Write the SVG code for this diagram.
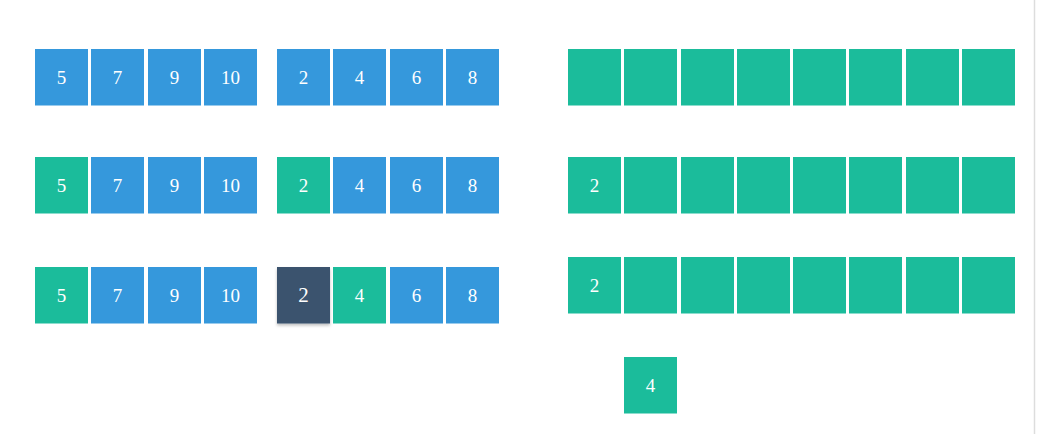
<svg xmlns="http://www.w3.org/2000/svg" width="1042" height="434" viewBox="0 0 1042 434">
<defs>
<style>
.b{fill:#3598dc}
.g{fill:#1bbc9b}
.d{fill:#3b526e}
text{font-family:"Liberation Serif","DejaVu Serif",serif;font-size:19px;fill:#fff;text-anchor:middle;dominant-baseline:central}
</style>
<filter id="sh" x="-20%" y="-20%" width="140%" height="140%"><feDropShadow dx="0" dy="2" stdDeviation="1.5" flood-color="#000" flood-opacity="0.25"/></filter>
</defs>
<rect width="1042" height="434" fill="#fff"/>
<line x1="1034.5" y1="0" x2="1034.5" y2="434" stroke="#dddddd" stroke-width="1.5"/>
<g id="row1">
<g id="r1a"><rect class="b" x="35" y="49" width="53" height="56.5"/><text x="61.5" y="77">5</text></g>
<g id="r1b"><rect class="b" x="91" y="49" width="53" height="56.5"/><text x="117.5" y="77">7</text></g>
<g id="r1c"><rect class="b" x="148" y="49" width="53" height="56.5"/><text x="174.5" y="77">9</text></g>
<g id="r1d"><rect class="b" x="204" y="49" width="53" height="56.5"/><text x="230.5" y="77">10</text></g>
<g id="r1e"><rect class="b" x="277" y="49" width="53" height="56.5"/><text x="303.5" y="77">2</text></g>
<g id="r1f"><rect class="b" x="333" y="49" width="53" height="56.5"/><text x="359.5" y="77">4</text></g>
<g id="r1g"><rect class="b" x="390" y="49" width="53" height="56.5"/><text x="416.5" y="77">6</text></g>
<g id="r1h"><rect class="b" x="446" y="49" width="53" height="56.5"/><text x="472.5" y="77">8</text></g>
<g id="r1out">
<rect class="g" x="568" y="49" width="53" height="56.5"/>
<rect class="g" x="624" y="49" width="53" height="56.5"/>
<rect class="g" x="681" y="49" width="53" height="56.5"/>
<rect class="g" x="737" y="49" width="53" height="56.5"/>
<rect class="g" x="793" y="49" width="53" height="56.5"/>
<rect class="g" x="849" y="49" width="53" height="56.5"/>
<rect class="g" x="906" y="49" width="53" height="56.5"/>
<rect class="g" x="962" y="49" width="53" height="56.5"/>
</g>
</g>
<g id="row2">
<g id="r2a"><rect class="g" x="35" y="157" width="53" height="56.5"/><text x="61.5" y="185">5</text></g>
<g id="r2b"><rect class="b" x="91" y="157" width="53" height="56.5"/><text x="117.5" y="185">7</text></g>
<g id="r2c"><rect class="b" x="148" y="157" width="53" height="56.5"/><text x="174.5" y="185">9</text></g>
<g id="r2d"><rect class="b" x="204" y="157" width="53" height="56.5"/><text x="230.5" y="185">10</text></g>
<g id="r2e"><rect class="g" x="277" y="157" width="53" height="56.5"/><text x="303.5" y="185">2</text></g>
<g id="r2f"><rect class="b" x="333" y="157" width="53" height="56.5"/><text x="359.5" y="185">4</text></g>
<g id="r2g"><rect class="b" x="390" y="157" width="53" height="56.5"/><text x="416.5" y="185">6</text></g>
<g id="r2h"><rect class="b" x="446" y="157" width="53" height="56.5"/><text x="472.5" y="185">8</text></g>
<g id="r2out">
<rect class="g" x="568" y="157" width="53" height="56.5"/><text x="594.5" y="185">2</text>
<rect class="g" x="624" y="157" width="53" height="56.5"/>
<rect class="g" x="681" y="157" width="53" height="56.5"/>
<rect class="g" x="737" y="157" width="53" height="56.5"/>
<rect class="g" x="793" y="157" width="53" height="56.5"/>
<rect class="g" x="849" y="157" width="53" height="56.5"/>
<rect class="g" x="906" y="157" width="53" height="56.5"/>
<rect class="g" x="962" y="157" width="53" height="56.5"/>
</g>
</g>
<g id="row3">
<g id="r3a"><rect class="g" x="35" y="267" width="53" height="56.5"/><text x="61.5" y="295">5</text></g>
<g id="r3b"><rect class="b" x="91" y="267" width="53" height="56.5"/><text x="117.5" y="295">7</text></g>
<g id="r3c"><rect class="b" x="148" y="267" width="53" height="56.5"/><text x="174.5" y="295">9</text></g>
<g id="r3d"><rect class="b" x="204" y="267" width="53" height="56.5"/><text x="230.5" y="295">10</text></g>
<g id="r3e"><rect class="d" x="277" y="267" width="53" height="56.5" filter="url(#sh)"/><text x="303.5" y="295" style="font-size:21px">2</text></g>
<g id="r3f"><rect class="g" x="333" y="267" width="53" height="56.5"/><text x="359.5" y="295">4</text></g>
<g id="r3g"><rect class="b" x="390" y="267" width="53" height="56.5"/><text x="416.5" y="295">6</text></g>
<g id="r3h"><rect class="b" x="446" y="267" width="53" height="56.5"/><text x="472.5" y="295">8</text></g>
<g id="r3out">
<rect class="g" x="568" y="257" width="53" height="56.5"/><text x="594.5" y="285">2</text>
<rect class="g" x="624" y="257" width="53" height="56.5"/>
<rect class="g" x="681" y="257" width="53" height="56.5"/>
<rect class="g" x="737" y="257" width="53" height="56.5"/>
<rect class="g" x="793" y="257" width="53" height="56.5"/>
<rect class="g" x="849" y="257" width="53" height="56.5"/>
<rect class="g" x="906" y="257" width="53" height="56.5"/>
<rect class="g" x="962" y="257" width="53" height="56.5"/>
</g>
</g>
<g id="moving"><rect class="g" x="624" y="357" width="53" height="56.5"/><text x="650.5" y="385">4</text></g>
<g id="connectors"></g>
</svg>
